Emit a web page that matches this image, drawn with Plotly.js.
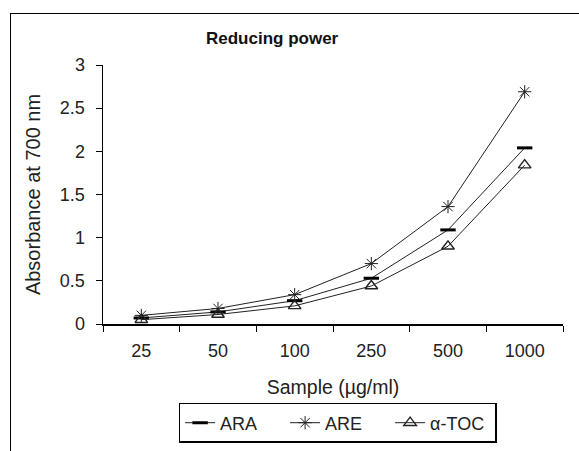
<!DOCTYPE html>
<html><head><meta charset="utf-8">
<script src="https://cdn.plot.ly/plotly-3.0.1.min.js"></script>
<style>
html,body{margin:0;padding:0;background:#fff;}
#frame{position:absolute;left:10px;top:13px;width:600px;height:460px;border:1px solid #000;box-sizing:border-box;}
#chart{position:absolute;left:0;top:0;width:579px;height:451px;}
</style></head>
<body>
<div id="frame"></div>
<div id="chart"></div>
<script>
const categories = ["25", "50", "100", "250", "500", "1000"];
const araValues = [0.07, 0.14, 0.27, 0.53, 1.09, 2.04];
const areValues = [0.10, 0.18, 0.34, 0.70, 1.36, 2.69];
const tocValues = [0.05, 0.11, 0.21, 0.44, 0.90, 1.84];
const seriesNames = ["ARA", "ARE", "α-TOC"];

const lineStyle = {color: "#222", width: 1};
const traces = [
  {x: categories, y: araValues, name: seriesNames[0], type: "scatter", mode: "lines+markers",
   line: lineStyle, marker: {symbol: "line-ew", size: 11, line: {color: "#000", width: 3}}},
  {x: categories, y: areValues, name: seriesNames[1], type: "scatter", mode: "lines+markers",
   line: lineStyle, marker: {symbol: "asterisk-open", size: 11, line: {color: "#222", width: 1}}},
  {x: categories, y: tocValues, name: seriesNames[2], type: "scatter", mode: "lines+markers",
   line: lineStyle, marker: {symbol: "triangle-up-open", size: 11, color: "#222", line: {color: "#222", width: 1.4}}}
];

const layout = {
  width: 579, height: 451,
  paper_bgcolor: "rgba(0,0,0,0)", plot_bgcolor: "rgba(0,0,0,0)",
  margin: {l: 103, r: 16, t: 65, b: 127, autoexpand: false},
  font: {family: "Liberation Sans, Arial, sans-serif", size: 18, color: "#222"},
  title: {text: "<b>Reducing power</b>", x: 0.47, xanchor: "center", y: 0.915, yanchor: "middle",
          font: {size: 17, color: "#111"}},
  showlegend: true,
  legend: {orientation: "h", x: 0.51, xanchor: "center", y: -0.305, yanchor: "top",
           bordercolor: "#000", borderwidth: 1.5, font: {size: 18},
           entrywidth: 60, entrywidthmode: "pixels", tracegroupgap: 0},
  xaxis: {type: "category", range: [-0.5, 5.5], automargin: false, showline: true, linecolor: "#000", linewidth: 1.5,
          ticks: "outside", tickson: "boundaries", ticklen: 6, tickcolor: "#000",
          ticklabelstandoff: 10,
          showgrid: false, zeroline: false, tickfont: {size: 18},
          title: {text: "Sample (µg/ml)", font: {size: 19.5}, standoff: 20}},
  yaxis: {range: [0, 3], dtick: 0.5, automargin: false, showline: true, linecolor: "#000", linewidth: 1.5,
          ticks: "outside", ticklen: 6, tickcolor: "#000", showgrid: false, zeroline: false,
          ticklabelstandoff: 7,
          tickfont: {size: 18},
          title: {text: "Absorbance at 700 nm", font: {size: 20}, standoff: 14}}
};
Plotly.newPlot("chart", traces, layout, {displayModeBar: false, staticPlot: true});
</script>
</body></html>
